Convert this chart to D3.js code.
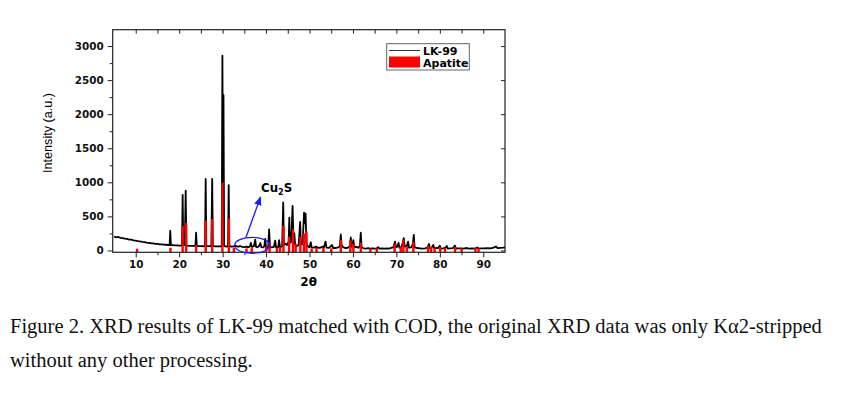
<!DOCTYPE html>
<html>
<head>
<meta charset="utf-8">
<script src="https://cdn.jsdelivr.net/npm/d3@7"></script>
<style>
  body { margin: 0; background: #fff; }
  svg { display: block; }
</style>
</head>
<body>
<svg id="chart"></svg>
<script>
// XRD LK-99 vs apatite (COD)

// trace LK-99 : 2theta / intensité
const lk99Theta = [5.0,5.5,6.0,6.5,7.0,7.5,8.0,8.5,9.0,9.5,10.0,10.5,11.0,11.5,12.0,12.5,13.0,13.5,14.0,14.5,15.0,15.5,16.0,16.5,17.0,17.5,
  17.8,17.95,18.1,18.5,19.0,19.5,20.0,20.5,20.65,20.8,20.95,21.1,21.3,21.5,21.65,21.8,22.5,23.0,23.5,23.75,23.9,24.05,24.5,25.0,25.5,
  25.95,26.1,26.25,26.8,27.4,27.6,27.75,28.3,28.8,29.3,29.8,29.95,30.08,30.2,30.35,30.6,31.0,31.25,31.4,31.55,32.0,32.5,33.0,33.3,33.7,
  34.0,34.5,35.0,35.5,35.8,36.3,36.5,36.7,37.2,37.5,37.7,38.0,38.4,38.7,38.9,39.3,39.6,39.8,40.0,40.5,40.7,40.9,41.3,41.8,42.1,42.3,
  42.8,43.0,43.2,43.7,43.95,44.1,44.5,44.8,45.2,45.35,45.5,45.8,46.1,46.3,46.5,46.7,47.0,47.5,47.85,48.0,48.4,48.75,48.9,49.1,49.3,
  49.7,50.0,50.3,50.5,51.0,51.5,52.0,52.5,53.0,53.3,53.7,53.9,54.5,55.2,55.4,56.0,56.6,57.0,57.2,57.4,57.8,58.3,58.8,59.3,59.5,59.7,
  60.1,60.3,60.8,61.2,61.6,61.8,62.0,62.5,63.0,63.5,64.0,64.5,65.0,65.5,65.8,66.1,66.7,67.3,67.8,68.3,68.8,69.3,69.7,69.9,70.2,70.5,
  70.7,71.2,71.5,71.7,71.9,72.4,72.7,72.9,73.4,73.8,74.0,74.2,74.8,75.4,76.0,76.6,77.2,77.5,77.7,78.1,78.5,78.7,79.2,79.6,80.0,80.2,
  80.8,81.3,81.6,81.8,82.4,83.0,83.5,83.7,84.3,85.0,85.5,86.2,86.8,87.5,88.2,88.6,88.9,89.5,90.2,91.0,91.7,92.4,92.9,93.3,94.0,94.6,95.0];
const lk99Counts = [205,192,198,186,182,174,170,160,158,148,145,138,132,126,122,116,112,106,104,98,96,90,90,85,84,80,
  80,290,78,78,74,74,70,72,72,815,86,78,80,877,84,70,68,66,66,68,260,68,64,64,62,
  64,1050,68,62,64,1050,66,60,60,60,62,2860,900,2280,70,60,58,62,960,66,56,60,70,60,56,
  66,52,50,56,46,58,110,52,64,160,54,46,64,110,50,44,60,170,48,50,310,56,44,52,145,46,
  50,150,50,60,705,80,100,80,130,480,110,130,655,150,250,80,62,78,420,100,90,555,400,540,90,
  56,46,120,44,42,56,38,40,56,44,130,42,38,80,36,36,44,64,235,76,44,36,40,64,190,52,
  150,44,54,40,64,260,44,32,28,34,28,32,26,32,50,28,30,26,30,28,38,46,130,46,56,110,
  40,56,120,180,56,66,130,40,46,96,230,44,36,32,28,32,46,95,32,40,80,32,36,36,70,28,
  32,40,65,28,32,34,70,28,30,32,28,36,28,32,28,44,28,32,30,34,32,42,58,34,38,42,46];

// pics de référence apatite (COD)
const apatiteTheta = [10.3,18.0,20.8,21.6,23.9,26.1,27.6,29.95,31.45,32.6,35.5,36.7,40.0,40.8,42.5,43.2,44.0,45.3,46.2,46.8,47.9,48.7,49.3,
  50.5,51.6,53.2,55.0,57.2,59.4,60.1,61.8,64.0,65.5,69.6,71.0,71.6,72.4,73.9,77.3,78.0,78.8,80.1,81.2,83.5,85.0,88.2,88.9];
const apatiteCounts = [25,40,360,400,80,440,460,995,470,40,30,35,60,110,40,50,360,200,310,100,200,250,280,
  30,40,40,30,150,150,100,115,30,30,100,60,160,60,130,70,50,40,50,30,50,30,40,30];

const xTicks = [10,20,30,40,50,60,70,80,90];
const yTicks = [0,500,1000,1500,2000,2500,3000];
const legendLabels = ["LK-99", "Apatite"];

const W = 850, H = 399;
const plot = {left: 112.7, right: 505, top: 29.7, bottom: 252.3};

const svg = d3.select("#chart").attr("width", W).attr("height", H);

const x = d3.scaleLinear().domain([4.7, 95]).range([plot.left, plot.right]);
const y = d3.scaleLinear().domain([-27, 3240]).range([plot.bottom, plot.top]);

const bold = "'DejaVu Sans', Verdana, sans-serif";

//trace noire
const trace = lk99Theta.map((t, i) => [t, lk99Counts[i]]);
svg.append("path")
  .datum(trace)
  .attr("d", d3.line().x(d => x(d[0])).y(d => y(d[1])))
  .attr("fill", "none")
  .attr("stroke", "#000")
  .attr("stroke-width", 1.8)
  .attr("stroke-linejoin", "round");

//bâtons rouges
svg.append("g").selectAll("rect")
  .data(apatiteTheta.map((t, i) => [t, apatiteCounts[i]]))
  .join("rect")
  .attr("x", d => x(d[0]) - 1.2)
  .attr("width", 2.4)
  .attr("y", d => y(d[1]))
  .attr("height", d => plot.bottom - y(d[1]))
  .attr("fill", "#ff0000");

//axes
svg.append("g").attr("transform", `translate(0,${plot.bottom})`)
  .call(d3.axisBottom(x).tickValues(xTicks).tickSize(5).tickPadding(3).tickFormat(d3.format("d")));
svg.append("g").attr("transform", `translate(0,${plot.bottom})`)
  .call(d3.axisBottom(x).tickValues(d3.range(15, 95, 10)).tickSize(3).tickFormat(""));
svg.append("g").attr("transform", `translate(0,${plot.top})`)
  .call(d3.axisBottom(x).tickValues(d3.range(10, 95, 5)).tickSize(4).tickFormat(""));

svg.append("g").attr("transform", `translate(${plot.left},0)`)
  .call(d3.axisLeft(y).tickValues(yTicks).tickSize(5).tickPadding(4).tickFormat(d3.format("d")));
svg.append("g").attr("transform", `translate(${plot.left},0)`)
  .call(d3.axisLeft(y).tickValues(d3.range(250, 3240, 500)).tickSize(3).tickFormat(""));
svg.append("g").attr("transform", `translate(${plot.right},0)`)
  .call(d3.axisLeft(y).tickValues(yTicks).tickSize(4).tickFormat(""));

svg.selectAll(".domain").remove();
svg.selectAll(".tick line").attr("stroke", "#222");
svg.selectAll(".tick text")
  .attr("font-family", bold).attr("font-weight", "bold").attr("font-size", 10.4).attr("fill", "#111");

// cadre
svg.append("rect")
  .attr("x", plot.left).attr("y", plot.top)
  .attr("width", plot.right - plot.left).attr("height", plot.bottom - plot.top)
  .attr("fill", "none").attr("stroke", "#222").attr("stroke-width", 1.2);

//titres d'axes
svg.append("text")
  .attr("x", x(49.8)).attr("y", 286)
  .attr("text-anchor", "middle")
  .attr("font-family", bold).attr("font-weight", "bold").attr("font-size", 12)
  .text("2θ");

svg.append("text")
  .attr("transform", "translate(52,133) rotate(-90)")
  .attr("text-anchor", "middle")
  .attr("font-family", "'Liberation Sans Narrow', 'Arial Narrow', 'Liberation Sans', sans-serif")
  .attr("font-size", 13.5)
  .attr("textLength", 80).attr("lengthAdjust", "spacingAndGlyphs")
  .text("Intensity (a.u.)");

//légende
const leg = svg.append("g");
leg.append("rect").attr("x", 386.7).attr("y", 43.7).attr("width", 82.6).attr("height", 26.3)
  .attr("fill", "#fff").attr("stroke", "#666").attr("stroke-width", 1);
leg.append("line").attr("x1", 389).attr("x2", 420).attr("y1", 50.5).attr("y2", 50.5)
  .attr("stroke", "#333").attr("stroke-width", 1);
leg.append("rect").attr("x", 389).attr("y", 56.5).attr("width", 31).attr("height", 11)
  .attr("fill", "#ff0000");
leg.selectAll("text").data(legendLabels).join("text")
  .attr("x", 423).attr("y", (d, i) => 54.5 + i * 12)
  .attr("font-family", bold).attr("font-weight", "bold").attr("font-size", 11)
  .text(d => d);

//annotation Cu2S
svg.append("defs").append("marker")
  .attr("id", "arrow").attr("viewBox", "0 0 10 10").attr("refX", 9).attr("refY", 5)
  .attr("markerWidth", 7).attr("markerHeight", 7).attr("orient", "auto")
  .append("path").attr("d", "M0,1 L10,5 L0,9 Z").attr("fill", "#1a1aff");

svg.append("ellipse")
  .attr("cx", x(36.8)).attr("cy", 245.3).attr("rx", 17.5).attr("ry", 8)
  .attr("fill", "none").attr("stroke", "#1a1aff").attr("stroke-width", 1.2);
svg.append("line")
  .attr("x1", 246).attr("y1", 237.3).attr("x2", 260.5).attr("y2", 197)
  .attr("stroke", "#1a1aff").attr("stroke-width", 1.3)
  .attr("marker-end", "url(#arrow)");

const cu = svg.append("text").attr("x", 261).attr("y", 191.7)
  .attr("font-family", bold).attr("font-weight", "bold").attr("font-size", 11.8);
cu.append("tspan").text("Cu");
cu.append("tspan").attr("font-size", 8).attr("dy", 3).text("2");
cu.append("tspan").attr("dy", -3).text("S");

//légende de figure
const cap = svg.append("g")
  .attr("font-family", "'Liberation Serif', 'Times New Roman', serif")
  .attr("font-size", 20.5).attr("fill", "#111");
cap.append("text").attr("x", 10).attr("y", 333.3)
  .text("Figure 2. XRD results of LK-99 matched with COD, the original XRD data was only Kα2-stripped");
cap.append("text").attr("x", 10).attr("y", 366.7)
  .text("without any other processing.");
</script>
</body>
</html>
